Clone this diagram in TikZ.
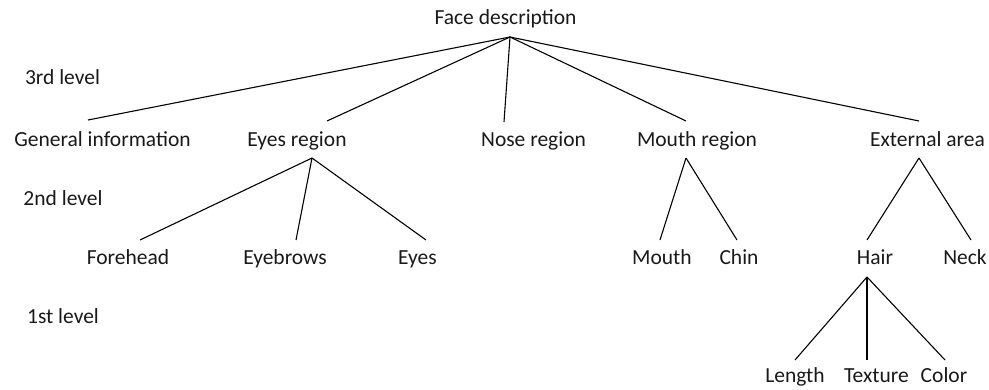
\documentclass[tikz,border=0pt]{standalone}
\usepackage{fontspec}
\setmainfont{Carlito}
\begin{document}
\begin{tikzpicture}[x=1pt,y=-1pt,
  lbl/.style={anchor=base,inner sep=0pt,font=\fontsize{21.5}{24}\selectfont,text=black!90},
  edge/.style={draw=black,line width=1.1pt}]
\useasboundingbox (0,0) rectangle (989,390);
% nodes
\node[lbl] (face) at (505.5,25) {Face description};
\node[lbl] (l3) at (62.5,85) {3rd level};
\node[lbl] (gen) at (102.5,147) {General information};
\node[lbl] (eyesr) at (297,147) {Eyes region};
\node[lbl] (nose) at (533.5,147) {Nose region};
\node[lbl] (mouthr) at (697,147) {Mouth region};
\node[lbl] (ext) at (927.5,147) {External area};
\node[lbl] (l2) at (63,206) {2nd level};
\node[lbl] (fore) at (128,265) {Forehead};
\node[lbl] (brows) at (285,265) {Eyebrows};
\node[lbl] (eyes) at (417.5,265) {Eyes};
\node[lbl] (mouth) at (662,265) {Mouth};
\node[lbl] (chin) at (739,265) {Chin};
\node[lbl] (hair) at (875,265) {Hair};
\node[lbl] (neck) at (965,265) {Neck};
\node[lbl] (l1) at (63,324) {1st level};
\node[lbl] (len) at (795,382) {Length};
\node[lbl] (tex) at (876.5,382) {Texture};
\node[lbl] (col) at (944,382) {Color};
% connector end points
\coordinate (face-b) at (510,37);
\coordinate (gen-t) at (88,120);
\coordinate (eyesr-t) at (327,121);
\coordinate (nose-t) at (504,122);
\coordinate (mouthr-t) at (686,121);
\coordinate (ext-t) at (919,121);
\coordinate (eyesr-b) at (312,158);
\coordinate (fore-t) at (140,240);
\coordinate (brows-t) at (296,240);
\coordinate (eyes-t) at (426,240);
\coordinate (mouthr-b) at (686,158);
\coordinate (mouth-t) at (660,240);
\coordinate (chin-t) at (737,240);
\coordinate (ext-b) at (919,158);
\coordinate (hair-t) at (867,240);
\coordinate (neck-t) at (971,240);
\coordinate (hair-b) at (867,277);
\coordinate (len-t) at (795,360);
\coordinate (tex-t) at (867,360);
\coordinate (col-t) at (945,360);
% connectors
\foreach \c in {gen-t,eyesr-t,nose-t,mouthr-t,ext-t} \draw[edge] (face-b) -- (\c);
\foreach \c in {fore-t,brows-t,eyes-t} \draw[edge] (eyesr-b) -- (\c);
\foreach \c in {mouth-t,chin-t} \draw[edge] (mouthr-b) -- (\c);
\foreach \c in {hair-t,neck-t} \draw[edge] (ext-b) -- (\c);
\foreach \c in {len-t,tex-t,col-t} \draw[edge] (hair-b) -- (\c);
\end{tikzpicture}
\end{document}
